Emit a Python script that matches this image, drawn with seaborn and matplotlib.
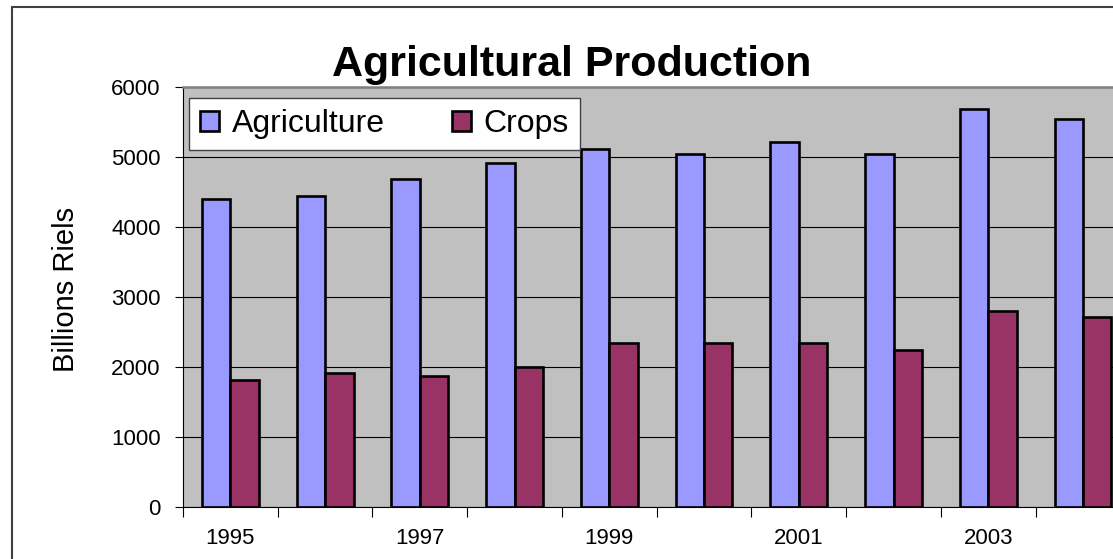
import matplotlib.pyplot as plt
import pandas as pd
import seaborn as sns
from matplotlib.patches import Patch, Rectangle

# values (billions of riels)
years = ['1995', '1996', '1997', '1998', '1999', '2000', '2001', '2002', '2003', '2004']
agriculture = [4400, 4440, 4690, 4910, 5120, 5040, 5210, 5040, 5680, 5550]
crops = [1820, 1910, 1870, 1995, 2340, 2340, 2340, 2250, 2800, 2720]
series_names = ['Agriculture', 'Crops']
colors = {'Agriculture': '#9999FF', 'Crops': '#993366'}
yticks = [0, 1000, 2000, 3000, 4000, 5000, 6000]

df = pd.DataFrame({
    'year': years * 2,
    'value': agriculture + crops,
    'series': [series_names[0]] * len(years) + [series_names[1]] * len(years),
})

plt.rcParams['font.family'] = ['Liberation Sans', 'DejaVu Sans']

W, H = 1113, 559
fig = plt.figure(figsize=(W / 100, H / 100), dpi=100)

# plot area: left 183px, top 87px, bottom 507px, runs past the right edge
ax = fig.add_axes([183 / W, 1 - 507 / H, 947.4 / W, 420 / H])
ax.set_facecolor('#C0C0C0')
ax.set_axisbelow(True)

sns.barplot(data=df, x='year', y='value', hue='series', order=years,
            hue_order=series_names, palette=colors, width=0.6, saturation=1,
            edgecolor='black', linewidth=1.9, legend=False, ax=ax)

ax.set_xlim(-0.5, len(years) - 0.5)
ax.set_ylim(0, 6000)
ax.set_yticks(yticks)
ax.set_yticklabels([str(v) for v in yticks], fontsize=16)
ax.grid(axis='y', color='black', linewidth=0.8)
ax.grid(axis='x', visible=False)

# year labels every other category, tick marks on the category boundaries
ax.set_xticks(range(len(years)))
ax.set_xticklabels([y if i % 2 == 0 else '' for i, y in enumerate(years)], fontsize=16)
ax.tick_params(axis='x', which='major', length=0, pad=15)
ax.set_xticks([i - 0.5 for i in range(len(years) + 1)], minor=True)
ax.tick_params(axis='x', which='minor', length=7, width=0.8, direction='out')
ax.tick_params(axis='y', length=6, width=0.8, direction='out', pad=10)
ax.set_xlabel('')
ax.set_ylabel('')

for side in ['left', 'bottom']:
    ax.spines[side].set_color('black')
    ax.spines[side].set_linewidth(0.8)
for side in ['top', 'right']:
    ax.spines[side].set_color('#808080')
    ax.spines[side].set_linewidth(1.8)

handles = [Patch(facecolor=colors[s], edgecolor='black', linewidth=1.9) for s in series_names]
ax.legend(handles, series_names, loc='upper left', ncol=2, mode='expand',
          bbox_to_anchor=(189 / W, 1 - 98 / H, 391 / W, 0.0001), bbox_transform=fig.transFigure,
          borderaxespad=0, borderpad=0.35, fontsize=23, handlelength=0.6, handleheight=0.6,
          handletextpad=0.4, fancybox=False, framealpha=1, facecolor='white',
          edgecolor='#404040')
ax.get_legend().get_frame().set_linewidth(1.0)

fig.text(572 / W, 1 - 76 / H, 'Agricultural Production', ha='center', va='baseline',
         fontsize=31, fontweight='bold')
fig.text(66 / W, 1 - 289 / H, 'Billions Riels', ha='center', va='center',
         rotation=90, fontsize=21)

# outer chart-area border (cut off at the right and bottom)
fig.patches.append(Rectangle((12 / W, -0.1), 1.2, 1.1 - 7 / H, transform=fig.transFigure,
                             fill=False, edgecolor='#404040', linewidth=1.5))

fig.savefig('out.png', dpi=100)
